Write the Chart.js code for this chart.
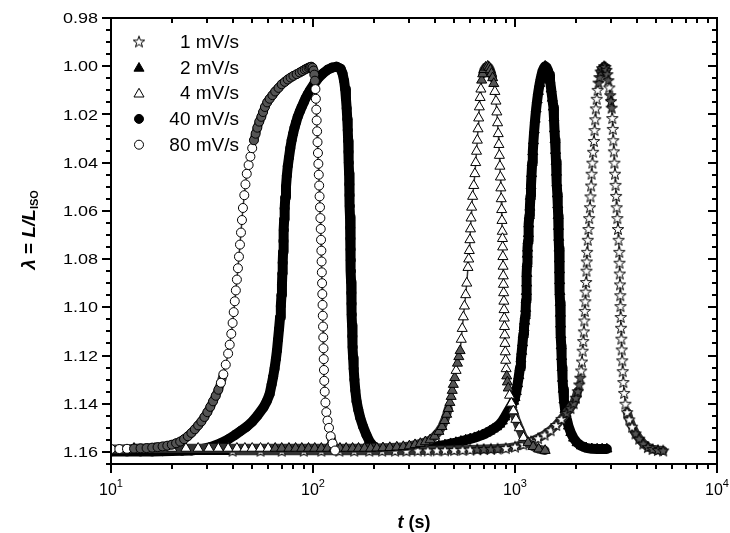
<!DOCTYPE html>
<html>
<head>
<meta charset="utf-8">
<script src="https://cdn.jsdelivr.net/npm/chart.js@4.4.1/dist/chart.umd.min.js"></script>
<style>
  html, body { margin: 0; padding: 0; background: #fff; }
</style>
</head>
<body>
<canvas id="lambdaChart" width="730" height="533"></canvas>
<script>
// series labels (legend order)
const seriesLabels = ['1 mV/s', '2 mV/s', '4 mV/s', '40 mV/s', '80 mV/s'];

// [t (s), lambda]
const s1 = [[40,1.1595],[55,1.1595],[70,1.1595],[90,1.1595],[110,1.1595],[135,1.1595],[160,1.1595],[190,1.1595],[220,1.1595],[255,1.1595],[290,1.1595],[330,1.1594],[370,1.1594],[410,1.1593],[450,1.1593],[500,1.1592],[550,1.1591],[600,1.159],[650,1.1589],[700,1.1588],[760,1.1587],[820,1.1586],[900,1.1584],[1000,1.1578],[1100,1.1568],[1200,1.1556],[1300,1.1543],[1400,1.1528],[1500,1.151],[1600,1.1488],[1700,1.1463],[1800,1.1438],[1880,1.1418],[1950,1.1398],[2000,1.1375],[2045,1.1348],[2081,1.132],[2105,1.1292],[2125,1.1262],[2145,1.1225],[2162,1.118],[2177,1.114],[2192,1.11],[2204,1.1055],[2216,1.1015],[2228,1.0975],[2238,1.0935],[2248,1.0895],[2258,1.0848],[2266,1.081],[2275,1.077],[2292,1.072],[2310,1.0675],[2329,1.063],[2349,1.0585],[2364,1.054],[2380,1.0495],[2395,1.0446],[2415,1.04],[2436,1.0355],[2458,1.031],[2476,1.0265],[2495,1.022],[2513,1.0175],[2538,1.0135],[2565,1.0098],[2592,1.0068],[2620,1.0045],[2655,1.0022],[2700,1.0008],[2763,1.0],[2800,1.0003],[2835,1.0015],[2865,1.0033],[2897,1.0058],[2930,1.0088],[2960,1.012],[2985,1.0145],[3009,1.0172],[3030,1.0215],[3048,1.026],[3066,1.0307],[3086,1.0353],[3106,1.04],[3126,1.0446],[3146,1.0492],[3166,1.0538],[3187,1.0585],[3210,1.063],[3235,1.0675],[3258,1.072],[3283,1.077],[3293,1.0815],[3302,1.086],[3311,1.0905],[3320,1.095],[3328,1.0995],[3337,1.104],[3350,1.1085],[3362,1.113],[3375,1.1175],[3394,1.122],[3415,1.1265],[3438,1.131],[3470,1.1355],[3520,1.14],[3590,1.1435],[3680,1.1465],[3800,1.1495],[3950,1.1523],[4120,1.1545],[4320,1.1565],[4550,1.158],[4800,1.1588],[5100,1.1592],[5415,1.1594]];

const s2 = [[11,1.1592],[14.5,1.1592],[18,1.1592],[21.5,1.1592],[25,1.1592],[28.5,1.1592],[32,1.1592],[36,1.1592],[40,1.1592],[45,1.1592],[50,1.1592],[56,1.1592],[62,1.1592],[68,1.1592],[75,1.1592],[82,1.1592],[90,1.1592],[99,1.1592],[108,1.1592],[118,1.1592],[129,1.1592],[140,1.1592],[152,1.1592],[165,1.1592],[179,1.1592],[194,1.1592],[210,1.1591],[230,1.159],[250,1.159],[275,1.1589],[300,1.1588],[330,1.1585],[360,1.1582],[390,1.1579],[420,1.1575],[450,1.1571],[480,1.1566],[510,1.1561],[540,1.1556],[570,1.1551],[600,1.1546],[630,1.1541],[660,1.1535],[690,1.1529],[720,1.1522],[750,1.1514],[780,1.1505],[810,1.1496],[840,1.1485],[865,1.1472],[890,1.1455],[915,1.1438],[940,1.1421],[965,1.1405],[985,1.139],[1000,1.1375],[1015,1.135],[1030,1.1318],[1045,1.1284],[1059,1.125],[1070,1.1215],[1080,1.1183],[1090,1.1148],[1099,1.1113],[1108,1.1085],[1116,1.1058],[1124,1.1035],[1130,1.1005],[1134,1.097],[1138,1.0935],[1142,1.09],[1145,1.086],[1148,1.082],[1151,1.078],[1155,1.0755],[1160,1.0725],[1165,1.0695],[1171,1.0655],[1178,1.062],[1185,1.0585],[1192,1.054],[1200,1.0495],[1208,1.0446],[1216,1.04],[1225,1.0355],[1234,1.031],[1245,1.0265],[1258,1.022],[1272,1.0178],[1288,1.014],[1305,1.0105],[1325,1.0072],[1345,1.0045],[1365,1.0022],[1388,1.0008],[1410,1.0],[1435,1.0005],[1458,1.0018],[1475,1.0035],[1490,1.0058],[1510,1.0095],[1530,1.0133],[1549,1.017],[1559,1.0215],[1568,1.026],[1578,1.0305],[1587,1.035],[1596,1.0395],[1604,1.044],[1612,1.0485],[1620,1.053],[1628,1.0575],[1636,1.062],[1642,1.0665],[1647,1.071],[1652,1.0755],[1656,1.08],[1660,1.0845],[1664,1.089],[1668,1.0935],[1672,1.098],[1677,1.1025],[1682,1.107],[1688,1.1115],[1694,1.116],[1701,1.1205],[1709,1.125],[1719,1.1295],[1731,1.134],[1747,1.1385],[1770,1.1425],[1800,1.146],[1840,1.1493],[1890,1.152],[1950,1.1543],[2030,1.1562],[2130,1.1575],[2250,1.1583],[2400,1.1587],[2550,1.1588],[2700,1.1588],[2850,1.1588]];

const s4 = [[13,1.1585],[16.5,1.1585],[20,1.1585],[23.5,1.1585],[27,1.1585],[30.5,1.1585],[34,1.1585],[38,1.1585],[42,1.1585],[46,1.1585],[50,1.1585],[55,1.1585],[60,1.1585],[65,1.1585],[70,1.1585],[76,1.1585],[82,1.1585],[88,1.1585],[95,1.1585],[102,1.1585],[110,1.1585],[118,1.1585],[127,1.1585],[136,1.1585],[146,1.1585],[157,1.1585],[168,1.1585],[180,1.1585],[193,1.1585],[207,1.1584],[222,1.1583],[240,1.1582],[260,1.158],[280,1.1578],[300,1.1575],[320,1.157],[340,1.1565],[360,1.1558],[380,1.155],[400,1.1535],[420,1.1515],[435,1.1495],[448,1.147],[459,1.1444],[468,1.142],[476,1.1395],[483,1.137],[489,1.1345],[495,1.132],[503,1.1292],[511,1.1262],[519,1.1232],[527,1.1205],[535,1.118],[542,1.1133],[548,1.1088],[555,1.104],[562,1.0995],[570,1.0948],[577,1.09],[585,1.0835],[590,1.08],[594,1.0765],[598,1.072],[602,1.0675],[606,1.063],[610,1.0585],[617,1.054],[625,1.0495],[633,1.0446],[639,1.04],[645,1.0353],[651,1.0307],[656,1.026],[661,1.0215],[666,1.0169],[672,1.013],[678,1.0095],[684,1.0058],[692,1.0032],[702,1.0014],[716,1.0004],[733,1.0],[745,1.0005],[755,1.0015],[765,1.003],[775,1.0048],[785,1.0072],[795,1.0105],[805,1.0145],[813,1.019],[820,1.0235],[826,1.028],[832,1.0325],[837,1.037],[842,1.0415],[847,1.046],[851,1.0505],[855,1.055],[859,1.0595],[862,1.064],[865,1.0685],[867,1.0715],[869,1.075],[871,1.079],[873,1.083],[875,1.087],[877,1.0905],[879,1.094],[881,1.0975],[883,1.101],[885,1.1045],[887,1.108],[889.5,1.1115],[892,1.115],[895,1.1185],[899,1.122],[904,1.1255],[910,1.1285],[917,1.131],[926,1.1335],[940,1.1365],[960,1.1398],[981,1.143],[1010,1.1465],[1050,1.15],[1101,1.154],[1160,1.1562],[1230,1.1578],[1310,1.1588],[1410,1.1594]];

const s40 = [[10,1.1598],[12,1.1598],[14,1.1598],[16,1.1598],[18,1.1597],[20,1.1596],[22.5,1.1595],[25,1.1594],[28,1.1588],[31,1.158],[34.7,1.1565],[38,1.1548],[41,1.153],[44,1.1512],[47,1.1495],[50,1.1475],[53,1.145],[56.8,1.1416],[59,1.139],[61,1.136],[62.4,1.132],[63.5,1.1288],[64.5,1.1255],[65.5,1.1215],[66.3,1.118],[67.1,1.1135],[67.9,1.109],[68.7,1.1042],[69.3,1.0995],[69.8,1.095],[70.2,1.0905],[70.5,1.086],[70.8,1.0815],[71.1,1.077],[71.4,1.0725],[71.7,1.068],[72,1.0635],[72.4,1.059],[72.9,1.0545],[73.5,1.05],[74.2,1.0455],[75,1.0415],[76,1.038],[77.2,1.034],[78.4,1.0307],[79.7,1.028],[81,1.0255],[82.5,1.0232],[84,1.021],[86,1.0188],[87.9,1.0169],[90,1.015],[92,1.0132],[94.3,1.0115],[96.6,1.01],[101,1.0075],[106,1.005],[112,1.003],[118,1.0015],[124,1.0006],[131,1.0002],[137,1.001],[140,1.003],[142.5,1.006],[144.3,1.0095],[145.6,1.0135],[146.8,1.0175],[147.8,1.022],[148.6,1.0265],[149.3,1.031],[149.9,1.0355],[150.4,1.04],[150.9,1.0445],[151.3,1.049],[151.7,1.0535],[152.1,1.058],[152.5,1.0625],[152.9,1.067],[153.2,1.0715],[153.5,1.076],[153.8,1.0805],[154.1,1.085],[154.4,1.0895],[154.8,1.094],[155.2,1.0985],[155.6,1.103],[156.1,1.1075],[156.6,1.112],[157.2,1.1165],[158,1.121],[159,1.1255],[160.3,1.13],[162,1.1345],[164.3,1.139],[167.5,1.1425],[171.5,1.146],[177,1.1495],[184,1.153],[191,1.1558],[198,1.1575],[206,1.1585]];

const s80 = [[10,1.1588],[11,1.1588],[12,1.1587],[13,1.1586],[14,1.1585],[15,1.1584],[16,1.1582],[17,1.158],[18,1.1577],[19,1.1574],[20,1.157],[21,1.1564],[22,1.1557],[23,1.1547],[24,1.1535],[25,1.1521],[26,1.1506],[27,1.149],[28,1.1474],[29,1.1455],[30,1.1435],[31,1.1413],[32,1.139],[33,1.1367],[34,1.1342],[35,1.1313],[36,1.1278],[37,1.1238],[38,1.1192],[38.7,1.1155],[39.4,1.111],[40,1.1065],[40.5,1.102],[41,1.0975],[41.5,1.093],[42,1.0885],[42.5,1.0838],[43,1.079],[43.5,1.074],[44,1.069],[44.5,1.0638],[45,1.0588],[45.7,1.0535],[46.3,1.049],[47,1.0446],[48,1.041],[49,1.0375],[50,1.034],[51,1.0307],[52,1.028],[53,1.0255],[54.2,1.023],[55.5,1.021],[56.6,1.019],[57.8,1.0169],[59.3,1.015],[61,1.0135],[63,1.012],[65,1.0105],[67.5,1.009],[70,1.0075],[72.5,1.0065],[75,1.0055],[77.5,1.0047],[80,1.004],[83,1.0033],[86,1.0026],[88.5,1.002],[91,1.0014],[93,1.001],[95,1.0006],[96.5,1.0004],[98,1.0002],[99.5,1.0006],[100.7,1.0018],[101.5,1.0035],[102.2,1.006],[102.8,1.0095],[103.3,1.0135],[103.8,1.018],[104.3,1.0225],[104.8,1.027],[105.3,1.0315],[105.8,1.036],[106.3,1.0405],[106.8,1.045],[107.3,1.0495],[107.8,1.054],[108.3,1.0585],[108.8,1.063],[109.2,1.0675],[109.6,1.072],[110,1.0765],[110.3,1.081],[110.6,1.0855],[110.9,1.09],[111.2,1.0945],[111.5,1.099],[111.8,1.1035],[112.1,1.108],[112.4,1.1125],[112.7,1.117],[113,1.1215],[113.3,1.126],[113.7,1.1305],[114.3,1.135],[115.2,1.1395],[116.4,1.1435],[118,1.147],[120,1.15],[122.3,1.1535],[125,1.1565],[128.5,1.1594]];

// axis ticks
const yTickLabels = ['0.98', '1.00', '1.02', '1.04', '1.06', '1.08', '1.10', '1.12', '1.14', '1.16'];
const xTickValues = [10, 100, 1000, 10000];
const xTickExps = ['1', '2', '3', '4'];

const FONT = '"Liberation Sans", Arial, Helvetica, sans-serif';
const CROWD = '#555';

// open five-point star marker
function makeStar(fill) {
  const c = document.createElement('canvas');
  c.width = 14; c.height = 14;
  const g = c.getContext('2d');
  g.beginPath();
  for (let i = 0; i < 10; i++) {
    const r = i % 2 ? 2.4 : 6;
    const a = -Math.PI / 2 + i * Math.PI / 5;
    const px = 7 + r * Math.cos(a), py = 7.6 + r * Math.sin(a);
    if (i === 0) g.moveTo(px, py); else g.lineTo(px, py);
  }
  g.closePath();
  g.fillStyle = fill;
  g.fill();
  g.lineWidth = 1;
  g.strokeStyle = '#000';
  g.stroke();
  return c;
}
const starImg = makeStar('#fff');
const starCrowd = makeStar(CROWD);

// pixel gap to the nearest neighbour on the same curve
function gap(ctx) {
  const ch = ctx.chart, d = ch.data.datasets[ctx.datasetIndex].data, i = ctx.dataIndex;
  const xs = ch.scales.x, ys = ch.scales.y;
  if (!d || !d[i]) return 99;
  const x0 = xs.getPixelForValue(d[i].x), y0 = ys.getPixelForValue(d[i].y);
  let m = 99;
  [i - 1, i + 1].forEach(j => {
    if (j >= 0 && j < d.length) {
      m = Math.min(m, Math.hypot(xs.getPixelForValue(d[j].x) - x0, ys.getPixelForValue(d[j].y) - y0));
    }
  });
  return m;
}

// thick band where markers pile up, thin line on near-vertical runs
function bandWidth(wide, thin) {
  return ctx => {
    const dx = Math.abs(ctx.p1.x - ctx.p0.x);
    const dy = Math.abs(ctx.p1.y - ctx.p0.y);
    return dy > 4 * dx ? thin : wide;
  };
}

function makeSet(i, pts, style, filled, radius, order) {
  return {
    label: seriesLabels[i],
    legendStyle: style,
    data: pts.map(p => ({ x: p[0], y: p[1] })),
    showLine: true,
    borderColor: filled ? '#000' : '#333',
    borderWidth: filled ? 10 : 9,
    borderJoinStyle: 'round',
    borderCapStyle: 'round',
    segment: { borderWidth: filled ? undefined : bandWidth(9, 1.5) },
    pointStyle: style === starImg ? (c => gap(c) < 7 ? starCrowd : starImg) : style,
    pointRadius: radius,
    pointBackgroundColor: filled ? '#000' : (c => gap(c) < 7 ? CROWD : '#fff'),
    legendFill: filled ? '#000' : '#fff',
    pointBorderColor: '#000',
    pointBorderWidth: 1,
    order: order
  };
}

const datasets = [
  makeSet(0, s1, starImg, false, 6, 3),
  makeSet(1, s2, 'triangle', true, 5.8, 5),
  makeSet(2, s4, 'triangle', false, 5.8, 2),
  makeSet(3, s40, 'circle', true, 4.5, 4),
  makeSet(4, s80, 'circle', false, 4.5, 1)
];

// rich text helper: parts = [{t, font, dy}]
function drawParts(ctx, parts, x, y) {
  let w = 0;
  parts.forEach(p => { ctx.font = p.font; p.w = ctx.measureText(p.t).width; w += p.w; });
  let cx = x - w / 2;
  parts.forEach(p => {
    ctx.font = p.font;
    ctx.fillText(p.t, cx, y + (p.dy || 0));
    cx += p.w;
  });
}

const framePlugin = {
  id: 'frame',
  afterDatasetsDraw(chart) {
    const { ctx, chartArea: a } = chart;
    const xs = chart.scales.x, ys = chart.scales.y;
    ctx.save();
    ctx.strokeStyle = '#000';
    ctx.fillStyle = '#000';
    ctx.lineWidth = 2;
    ctx.strokeRect(a.left, a.top, a.right - a.left, a.bottom - a.top);

    ctx.beginPath();
    // y ticks: minor every 0.005, major every 0.02
    for (let k = 0; k <= 37; k++) {
      const p = Math.round(ys.getPixelForValue(0.98 + k * 0.005));
      const len = k % 4 === 0 ? 9 : 5;
      ctx.moveTo(a.left - len, p); ctx.lineTo(a.left, p);
      ctx.moveTo(a.right - len, p); ctx.lineTo(a.right, p);
    }
    // x ticks: decades and 2..9 in between
    xTickValues.forEach((d, i) => {
      const p = Math.round(xs.getPixelForValue(d));
      ctx.moveTo(p, a.bottom); ctx.lineTo(p, a.bottom + 9);
      ctx.moveTo(p, a.top); ctx.lineTo(p, a.top + 9);
      if (i < xTickValues.length - 1) {
        for (let m = 2; m <= 9; m++) {
          const q = Math.round(xs.getPixelForValue(d * m));
          ctx.moveTo(q, a.bottom); ctx.lineTo(q, a.bottom + 5);
          ctx.moveTo(q, a.top); ctx.lineTo(q, a.top + 5);
        }
      }
    });
    ctx.stroke();

    // y tick labels
    ctx.font = '15px ' + FONT;
    ctx.textAlign = 'right';
    ctx.textBaseline = 'middle';
    yTickLabels.forEach(lab => {
      const p = ys.getPixelForValue(parseFloat(lab));
      ctx.save();
      ctx.translate(a.left - 13, p + 1);
      ctx.scale(1.2, 1);
      ctx.fillText(lab, 0, 0);
      ctx.restore();
    });

    // x tick labels 10^n
    ctx.textAlign = 'left';
    ctx.textBaseline = 'alphabetic';
    xTickValues.forEach((d, i) => {
      const p = xs.getPixelForValue(d);
      drawParts(ctx, [
        { t: '10', font: '16px ' + FONT },
        { t: xTickExps[i], font: '11px ' + FONT, dy: -8 }
      ], p, 495);
    });

    // axis titles
    drawParts(ctx, [
      { t: 't', font: 'italic bold 18px ' + FONT },
      { t: ' (s)', font: 'bold 18px ' + FONT }
    ], 414, 528);

    ctx.save();
    ctx.translate(35, 230);
    ctx.rotate(-Math.PI / 2);
    drawParts(ctx, [
      { t: 'λ', font: 'italic bold 19px ' + FONT },
      { t: ' = ', font: 'bold 19px ' + FONT },
      { t: 'L/L', font: 'italic bold 19px ' + FONT },
      { t: 'ISO', font: 'bold 11px ' + FONT, dy: 3 }
    ], 0, 0);
    ctx.restore();

    // legend
    ctx.font = '19px ' + FONT;
    ctx.textAlign = 'right';
    ctx.textBaseline = 'middle';
    chart.data.datasets.forEach((ds, i) => {
      const y = 41.5 + i * 25.8;
      const x = 139;
      const r = ds.pointRadius;
      const st = ds.legendStyle;
      if (typeof st === 'object') {
        ctx.drawImage(st, x - st.width / 2, y - st.height / 2);
      } else {
        ctx.beginPath();
        if (st === 'circle') {
          ctx.arc(x, y, r, 0, Math.PI * 2);
        } else {
          for (let k = 0; k < 3; k++) {
            const ang = k * 2 * Math.PI / 3;
            const px = x + Math.sin(ang) * r, py = y + 1 - Math.cos(ang) * r;
            if (k === 0) ctx.moveTo(px, py); else ctx.lineTo(px, py);
          }
          ctx.closePath();
        }
        ctx.fillStyle = ds.legendFill;
        ctx.fill();
        ctx.lineWidth = 1;
        ctx.strokeStyle = '#000';
        ctx.stroke();
      }
      ctx.fillStyle = '#000';
      ctx.fillText(ds.label, 239, y + 1);
    });
    ctx.restore();
  }
};

new Chart(document.getElementById('lambdaChart'), {
  type: 'scatter',
  data: { datasets: datasets },
  options: {
    responsive: false,
    animation: false,
    layout: { padding: { left: 111, right: 13, top: 18, bottom: 69 } },
    plugins: { legend: { display: false }, tooltip: { enabled: false } },
    scales: {
      x: { type: 'logarithmic', min: 10, max: 10000, display: false },
      y: { type: 'linear', min: 0.98, max: 1.165, reverse: true, display: false }
    }
  },
  plugins: [framePlugin]
});
</script>
</body>
</html>
